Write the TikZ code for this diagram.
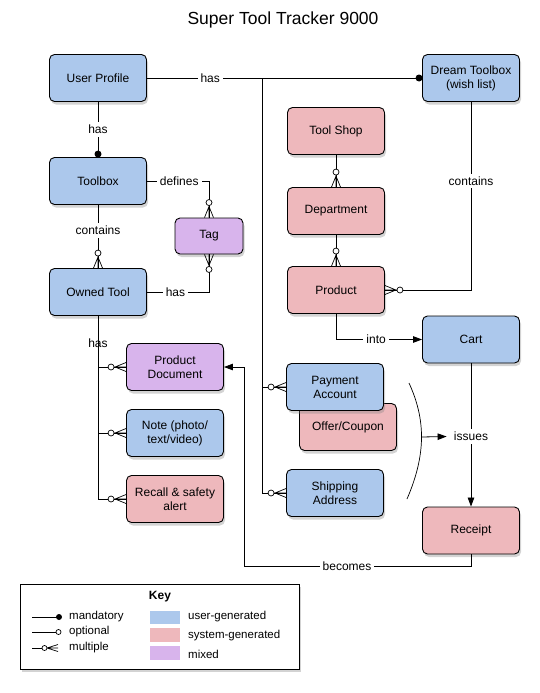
\documentclass[tikz,border=0pt]{standalone}
\usepackage{fontspec}
\setmainfont{Liberation Sans}
\usetikzlibrary{shadows,arrows.meta,calc}
\definecolor{ublue}{RGB}{172,200,236}
\definecolor{spink}{RGB}{238,184,188}
\definecolor{mpurp}{RGB}{216,180,236}
\tikzset{
 box/.style={draw, line width=0.9pt, rounded corners=5pt, minimum width=97pt, minimum height=47pt,
   align=center, font=\fontsize{12}{14}\selectfont, inner sep=2pt,
   drop shadow={shadow xshift=1.5pt, shadow yshift=-3pt, opacity=0.35}},
 lbl/.style={fill=white, font=\fontsize{12}{14}\selectfont, inner sep=3pt},
 keytxt/.style={anchor=west, font=\fontsize{11.5}{13}\selectfont, inner sep=0pt},
 arr/.style={-{Triangle[length=9pt,width=6.5pt]}},
 conn/.style={line width=0.8pt},
 pics/many/.style={code={
   \draw[line width=0.7pt] (-11,0) -- (0,-4.5) (-11,0) -- (0,4.5) (-12,0) -- (0,0);
   \draw[line width=0.7pt, fill=white] (-15,0) circle (3);}},
 pics/one/.style={code={\fill (-3,0) circle (3.5);}}
}
\begin{document}
\begin{tikzpicture}[x=1pt,y=-1pt]
\useasboundingbox (0,0) rectangle (540,693);
% title
\node[font=\fontsize{17.5}{20}\selectfont] (title) at (283,20) {Super Tool Tracker 9000};
% boxes
\node[box, fill=ublue] (up) at (98,78) {User Profile};
\node[box, fill=ublue] (dt) at (471,78) {Dream Toolbox\\(wish list)};
\node[box, fill=ublue] (tb) at (98,181) {Toolbox};
\node[box, fill=spink] (ts) at (336,131) {Tool Shop};
\node[box, fill=mpurp, minimum width=68pt, minimum height=36pt] (tag) at (209,236) {Tag};
\node[box, fill=spink] (dep) at (336,211) {Department};
\node[box, fill=ublue] (ot) at (98,292) {Owned Tool};
\node[box, fill=spink] (prod) at (336,290) {Product};
\node[box, fill=ublue] (cart) at (471,339.5) {Cart};
\node[box, fill=mpurp] (pdoc) at (175,367) {Product\\Document};
\node[box, fill=ublue] (note) at (175,433) {Note (photo/\\text/video)};
\node[box, fill=spink] (rec) at (175,499) {Recall \& safety\\alert};
\node[box, fill=spink] (offer) at (348,427) {Offer/Coupon};
\node[box, fill=ublue] (pay) at (335,387) {Payment\\Account};
\node[box, fill=ublue] (ship) at (335,493) {Shipping\\Address};
\node[box, fill=spink] (receipt) at (471,530.5) {Receipt};
% connectors
\coordinate (j) at (262,78);
\draw[conn] (up.east) -- node[lbl, pos=0.23] {has} (dt.west);
\pic at (dt.west) {one};
\draw[conn] (j) |- (pay.west);
\draw[conn] (j) |- (ship.west);
\pic at (pay.west) {many};
\pic at (ship.west) {many};
\draw[conn] (up.south) -- node[lbl] {has} (tb.north);
\pic[rotate=-90] at (tb.north) {one};
\draw[conn] (tb.east) -| node[lbl, pos=0.26] {defines} (tag.north);
\pic[rotate=-90] at (tag.north) {many};
\draw[conn] (ot.east) -| node[lbl, pos=0.23] {has} (tag.south);
\pic[rotate=90] at (tag.south) {many};
\draw[conn] (tb.south) -- node[lbl, pos=0.4] {contains} (ot.north);
\pic[rotate=-90] at (ot.north) {many};
\draw[conn] (ot.south) |- node[lbl, pos=0.265] {has} (pdoc.west);
\draw[conn] (ot.south) |- (note.west);
\draw[conn] (ot.south) |- (rec.west);
\pic at (pdoc.west) {many};
\pic at (note.west) {many};
\pic at (rec.west) {many};
\draw[conn] (ts.south) -- (dep.north);
\pic[rotate=-90] at (dep.north) {many};
\draw[conn] (dep.south) -- (prod.north);
\pic[rotate=-90] at (prod.north) {many};
\draw[conn] (dt.south) |- node[lbl, pos=0.21] {contains} (prod.east);
\pic[rotate=180] at (prod.east) {many};
\draw[conn, arr] (prod.south) |- node[lbl, pos=0.733] {into} (cart.west);
\draw[conn, arr] (cart.south) -- node[lbl, pos=0.51] (iss) {issues} (receipt.north);
% bracket
\coordinate (bt) at (409,383);
\coordinate (bb) at (407,499);
\coordinate (bm) at (421.5,437);
\draw[line width=0.7pt] (bt) .. controls (426,420) and (426,455) .. (bb);
\draw[conn, arr, shorten >=4pt] (bm) -- (iss.west);
% becomes
\coordinate (bc) at (244,566);
\draw[conn, arr] (receipt.south) |- node[lbl, pos=0.773] {becomes} (bc) |- (pdoc.east);
% key
\node[draw, line width=0.8pt, fill=white, minimum width=279pt, minimum height=85pt, inner sep=0pt,
  drop shadow={shadow xshift=1.5pt, shadow yshift=-3pt, opacity=0.35}] (key) at (159.5,626.5) {};
\node[font=\bfseries\fontsize{12}{14}\selectfont] (keyt) at (160,597) {Key};
\draw[line width=0.8pt] (32,617) -- (57,617);
\fill (59,617) circle (3);
\node[keytxt] (k1) at (69,617) {mandatory};
\draw[line width=0.8pt] (32,632) -- (56,632);
\draw[line width=0.7pt, fill=white] (58.5,632) circle (2.5);
\node[keytxt] (k2) at (69,632) {optional};
\draw[line width=0.8pt] (32,648) -- (42,648);
\draw[line width=0.7pt, fill=white] (44.5,648) circle (2.5);
\draw[line width=0.7pt] (47,648) -- (58,644.5) (47,648) -- (58,651.5) (47,648) -- (58,648);
\node[keytxt] (k3) at (69,648) {multiple};
\fill[ublue] (150,611) rectangle (180,624);
\fill[spink] (150,628) rectangle (180,642);
\fill[mpurp] (150,646) rectangle (180,660);
\node[keytxt] (k4) at (188,617) {user-generated};
\node[keytxt] (k5) at (188,636) {system-generated};
\node[keytxt] (k6) at (188,654) {mixed};
\end{tikzpicture}
\end{document}
